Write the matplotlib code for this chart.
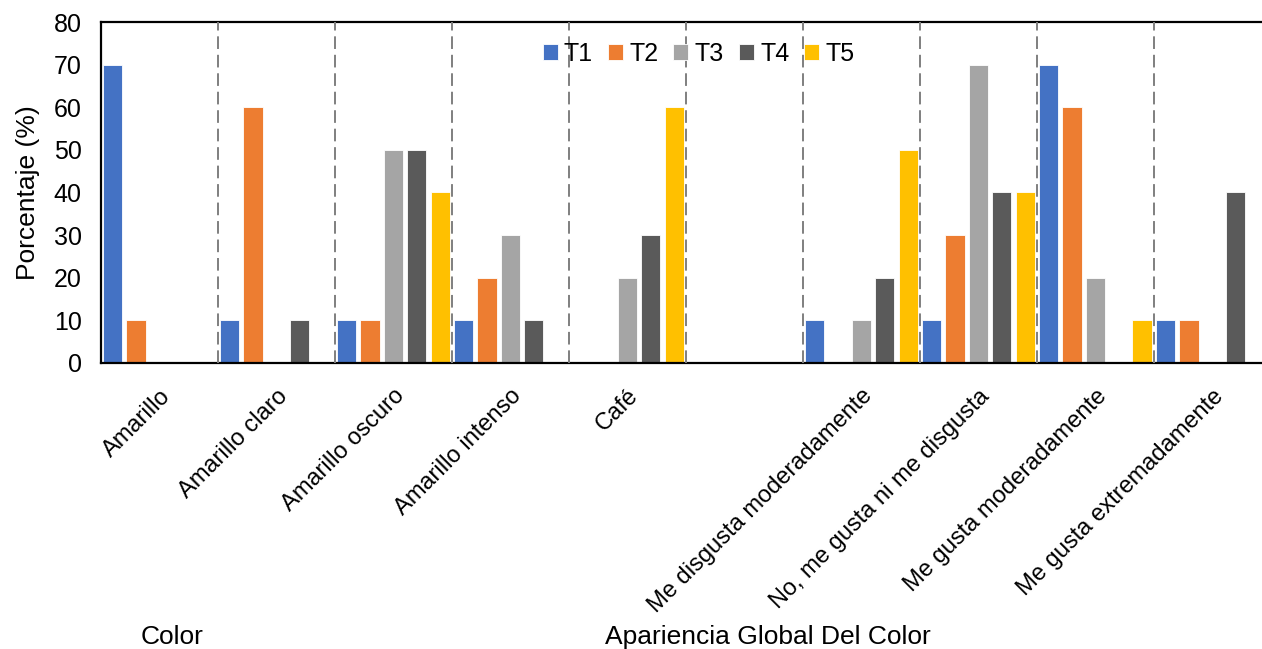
# Sensory evaluation: colour and overall colour appearance by treatment
import numpy as np
import matplotlib.pyplot as plt

plt.rcParams['font.family'] = ['Liberation Sans', 'DejaVu Sans']

# Data
categories = ['Amarillo', 'Amarillo claro', 'Amarillo oscuro', 'Amarillo intenso', 'Café', '',
              'Me disgusta moderadamente', 'No, me gusta ni me disgusta',
              'Me gusta moderadamente', 'Me gusta extremadamente']
treatments = ['T1', 'T2', 'T3', 'T4', 'T5']
t1 = [70, 10, 10, 10, 0, 0, 10, 10, 70, 10]
t2 = [10, 60, 10, 20, 0, 0, 0, 30, 60, 10]
t3 = [0, 0, 50, 30, 20, 0, 10, 70, 20, 0]
t4 = [0, 10, 50, 10, 30, 0, 20, 40, 0, 40]
t5 = [0, 0, 40, 0, 60, 0, 50, 40, 10, 0]
colors = ['#4472C4', '#ED7D31', '#A5A5A5', '#5A5A5A', '#FFC000']

fig = plt.figure(figsize=(12.62, 6.49), dpi=100)
ax = fig.add_axes([0.080, 0.441, 0.927, 0.525])

x = np.arange(len(categories))
series = [t1, t2, t3, t4, t5]
for i, (vals, c, name) in enumerate(zip(series, colors, treatments)):
    ax.bar(x + (i - 2) * 0.2, vals, width=0.165, color=c, edgecolor='white',
           linewidth=0.6, label=name, zorder=2)

# dashed separators between categories
for b in np.arange(0.5, len(categories) - 0.5, 1.0):
    ax.axvline(b, color='#7F7F7F', linestyle=(0, (6.5, 3)), linewidth=1.4, zorder=3)

ax.set_xlim(-0.5, len(categories) - 0.5)
ax.set_ylim(0, 80)
ax.set_yticks(range(0, 81, 10))
ax.tick_params(axis='y', length=0, labelsize=18, pad=14)
ax.tick_params(axis='x', length=0, labelsize=17, pad=16)
ax.set_xticks(x)
ax.set_xticklabels(categories, rotation=45, ha='right', rotation_mode='anchor')
ax.set_ylabel('Porcentaje (%)', fontsize=19, labelpad=10)

for s in ['left', 'bottom', 'top']:
    ax.spines[s].set_linewidth(1.6)
    ax.spines[s].set_color('black')
ax.spines['right'].set_visible(False)

ax.legend(loc='upper center', bbox_to_anchor=(0.511, 1.008), ncol=5, frameon=False,
          fontsize=18, handlelength=0.6, handleheight=0.6, handletextpad=0.25,
          columnspacing=0.6)

fig.text(172 / 1262, 1 - 637 / 649, 'Color', fontsize=19, ha='center', va='center')
fig.text(768 / 1262, 1 - 637 / 649, 'Apariencia Global Del Color', fontsize=19,
         ha='center', va='center')

fig.savefig('out.png', dpi=100)
